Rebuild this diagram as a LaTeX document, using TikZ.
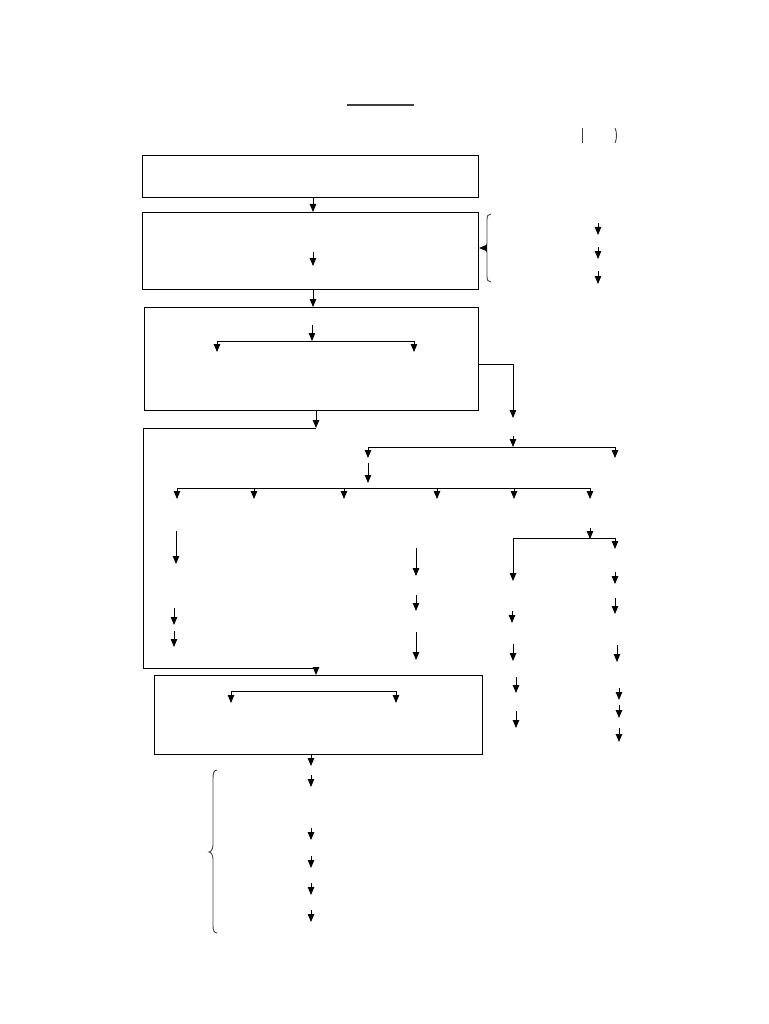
\documentclass[tikz,border=0pt]{standalone}
\usetikzlibrary{arrows.meta}
\begin{document}
\begin{tikzpicture}[x=1pt,y=-1pt,line width=0.85pt,
  >={Triangle[width=6.5pt,length=8pt]},
  box/.style={draw,rectangle,anchor=north west,inner sep=0pt,line width=1.1pt},
  thin/.style={line width=0.9pt,draw=black!75}]
\useasboundingbox (0,0) rectangle (768,1024);
\newcommand\darr[3]{\draw[->] (#1,#2) -- (#1,#3);}
% boxes
\node[box,minimum width=336pt,minimum height=42pt] (b1) at (142,155) {};
\node[box,minimum width=336pt,minimum height=77pt] (b2) at (142,212) {};
\node[box,minimum width=334pt,minimum height=103pt] (b3) at (144,307) {};
\node[box,minimum width=328pt,minimum height=79pt] (b4) at (154,675) {};
% title rule and marks
\draw[thin,line width=1.3pt] (347,105) -- (414,105);
\draw[thin] (582,128) -- (582,143);
\draw[thin] (615,128) .. controls (617,132) and (617,139) .. (615,143);
% box1 -> box2
\coordinate (b1s) at (313,197);
\draw[->] (b1s) -- (b1s |- b2.north);
\darr{313}{252}{266}
% brace right of box2
\draw[thin] (491,214) .. controls (488,214) and (487,216) .. (487,220) -- (487,243)
  .. controls (487,246) and (486,248) .. (484,248)
  .. controls (486,248) and (487,250) .. (487,253) -- (487,276)
  .. controls (487,280) and (488,282) .. (491,282);
\coordinate (brt) at (486,248);
\draw[->] (brt) -- (b2.east |- brt);
\darr{598}{223}{235}
\darr{598}{247}{259}
\darr{598}{271}{284}
% box2 -> box3
\coordinate (b2s) at (313,289);
\draw[->] (b2s) -- (b2s |- b3.north);
% inside box3
\darr{312}{325}{341}
\coordinate (s3) at (312,341);
\draw (217,341) -- (414,341);
\darr{217}{341}{352}
\darr{414}{341}{352}
% box3 right branch
\coordinate (r3) at (513,364);
\draw[->] (b3.east |- r3) -- (r3) -- (513,418);
% box3 bottom -> loop to box4
\coordinate (l1) at (316,428);
\draw[->] (316,410) -- (l1);
\draw (l1) -- (143,428) -- (143,668) -- (316,668);
\coordinate (l2) at (316,668);
\draw[->] (l2) -- (l2 |- b4.north);
% middle right tree
\darr{513}{436}{447}
\draw (368,447) -- (615,447);
\darr{368}{447}{458}
\darr{615}{447}{458}
\darr{368}{463}{483}
\draw (177,488) -- (590,488);
\foreach \x in {177,254,344,437,514,590} {\darr{\x}{488}{499}}
% lower columns
\darr{176}{531}{564}
\darr{174}{608}{625}
\darr{174}{631}{647}
\darr{416}{548}{576}
\darr{416}{595}{611}
\darr{416}{632}{660}
\darr{590}{528}{539}
\draw (513,538) -- (615,538);
\darr{513}{538}{581}
\darr{615}{538}{549}
\darr{615}{572}{584}
\darr{615}{598}{614}
\darr{617}{645}{662}
\darr{512}{611}{623}
\darr{513}{644}{661}
\darr{516}{677}{693}
\darr{516}{711}{728}
\darr{619}{688}{700}
\darr{619}{705}{718}
\darr{619}{728}{742}
% inside box4
\draw (231,691) -- (396,691);
\darr{231}{691}{703}
\darr{396}{691}{703}
% below box4
\coordinate (b4s) at (311,754);
\draw[->] (b4s) -- (311,766);
\foreach \y in {775,828,856,883,910} {\darr{311}{\y}{\y+12}}
% left brace bottom
\draw[thin] (217,770) .. controls (214,770) and (213,773) .. (213,778) -- (213,845)
  .. controls (213,849) and (211,852) .. (209,852)
  .. controls (211,852) and (213,855) .. (213,859) -- (213,926)
  .. controls (213,930) and (214,933) .. (217,933);
\end{tikzpicture}
\end{document}
